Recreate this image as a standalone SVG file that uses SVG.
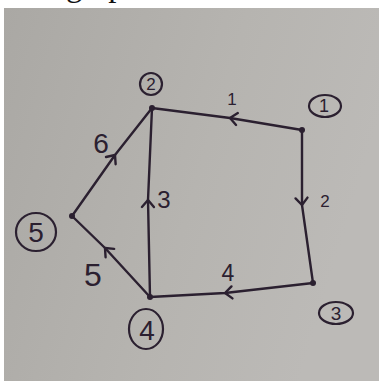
<svg xmlns="http://www.w3.org/2000/svg" width="379" height="381" viewBox="0 0 379 381">
<style>
.ink{stroke:#2b2030;stroke-width:2.4;fill:none;stroke-linecap:round;stroke-linejoin:round}
.ring{stroke:#2b2030;stroke-width:2.2;fill:none}
.dot{fill:#2b2030}
.lbl{font-family:"Liberation Sans",Arial,sans-serif;fill:#2b2030;text-anchor:middle;dominant-baseline:central}
.top{font-family:"Liberation Serif","Times New Roman",serif;fill:#111}
</style>
<defs>
<linearGradient id="paper" x1="0" y1="0" x2="1" y2="0.3">
<stop offset="0" stop-color="#aaa8a4"/>
<stop offset="0.6" stop-color="#b6b4b0"/>
<stop offset="1" stop-color="#bcbab7"/>
</linearGradient>
<marker id="chev" markerUnits="userSpaceOnUse" markerWidth="20" markerHeight="20" viewBox="-10 -10 20 20" refX="0" refY="0" orient="auto">
<path d="M-7,-6 L0,0 L-7,6" stroke="#2b2030" stroke-width="2.4" fill="none" stroke-linecap="round" stroke-linejoin="round"/>
</marker>
</defs>
<rect width="379" height="381" fill="#ffffff"/>
<text class="top" x="66" y="-4" font-size="33">graph</text>
<rect x="4" y="8" width="375" height="373" fill="url(#paper)"/>
<g id="connectors">
<path class="ink" marker-mid="url(#chev)" d="M302,130 L230,118 L152,108"/>
<path class="ink" marker-mid="url(#chev)" d="M302,130 L302,205 L313,283"/>
<path class="ink" marker-mid="url(#chev)" d="M313,283 L225,293 L150,297"/>
<path class="ink" marker-mid="url(#chev)" d="M150,297 L148,200 L152,108"/>
<path class="ink" marker-mid="url(#chev)" d="M150,297 L105,248 L72,216"/>
<path class="ink" marker-mid="url(#chev)" d="M72,216 L115,155 L152,108"/>
<text class="lbl" x="232" y="99" font-size="17">1</text>
<text class="lbl" x="325" y="201" font-size="17">2</text>
<text class="lbl" x="164" y="199" font-size="24">3</text>
<text class="lbl" x="228" y="273" font-size="23">4</text>
<text class="lbl" x="93" y="275" font-size="32">5</text>
<text class="lbl" x="101" y="143" font-size="28">6</text>
</g>
<g id="n1">
<circle class="dot" cx="302" cy="130" r="3"/>
<ellipse class="ring" cx="325" cy="106" rx="16" ry="11"/>
<text class="lbl" x="324" y="106" font-size="18">1</text>
</g>
<g id="n2">
<circle class="dot" cx="152" cy="108" r="3"/>
<circle class="ring" cx="151" cy="84" r="11"/>
<text class="lbl" x="151" y="84" font-size="17">2</text>
</g>
<g id="n3">
<circle class="dot" cx="313" cy="283" r="3"/>
<ellipse class="ring" cx="336" cy="313" rx="17" ry="11"/>
<text class="lbl" x="336" y="313" font-size="19">3</text>
</g>
<g id="n4">
<circle class="dot" cx="150" cy="297" r="3"/>
<ellipse class="ring" cx="146" cy="329" rx="17" ry="20"/>
<text class="lbl" x="147" y="330" font-size="28">4</text>
</g>
<g id="n5">
<circle class="dot" cx="72" cy="216" r="3"/>
<ellipse class="ring" cx="36" cy="232" rx="20" ry="19"/>
<text class="lbl" x="36" y="232" font-size="28">5</text>
</g>
</svg>
